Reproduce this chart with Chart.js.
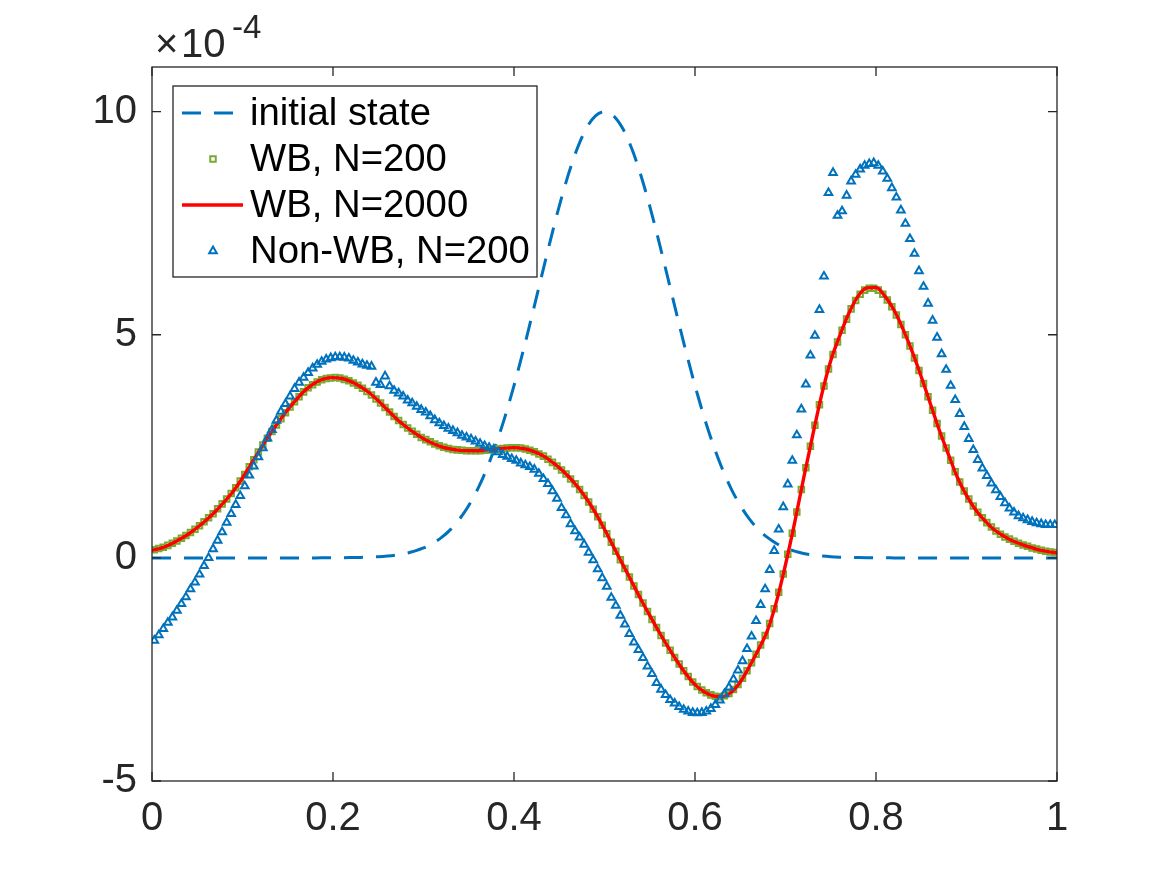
<!DOCTYPE html>
<html lang="en">

<head>
    <meta charset="UTF-8">
    <title>WB vs Non-WB</title>
    <script src="https://cdn.jsdelivr.net/npm/chart.js"></script>
    <style>
        html, body { margin: 0; padding: 0; background: #fff; }
        #holder { width: 1167px; height: 875px; position: relative; }
    </style>
</head>

<body>
    <div id="holder">
        <canvas id="canvas1"></canvas>
    </div>

    <script>
        // ---- data (y values in units of 1e-4) ----
        const seriesNames = ['initial state', 'WB, N=200', 'WB, N=2000', 'Non-WB, N=200'];

        const xTickValues = [0, 0.2, 0.4, 0.6, 0.8, 1];
        const xTickLabels = ['0', '0.2', '0.4', '0.6', '0.8', '1'];
        const yTickValues = [-5, 0, 5, 10];
        const yTickLabels = ['-5', '0', '5', '10'];

        // initial state, sampled at x = 0, 0.01, ..., 1
        const initialState = [
            0, 0, 0, 0, 0, 0, 0, 0, 0, 0,
            0, 0, 0, 0, 0, 0, 0, 0, 0, 0.001,
            0.002, 0.003, 0.006, 0.010, 0.016, 0.026, 0.042, 0.065, 0.100, 0.150,
            0.222, 0.322, 0.458, 0.639, 0.875, 1.175, 1.548, 2.002, 2.540, 3.161,
            3.861, 4.626, 5.438, 6.273, 7.099, 7.882, 8.587, 9.179, 9.626, 9.905,
            10.0,
            9.905, 9.626, 9.179, 8.587, 7.882, 7.099, 6.273, 5.438, 4.626, 3.861,
            3.161, 2.540, 2.002, 1.548, 1.175, 0.875, 0.639, 0.458, 0.322, 0.222,
            0.150, 0.100, 0.065, 0.042, 0.026, 0.016, 0.010, 0.006, 0.003, 0.002,
            0.001, 0, 0, 0, 0, 0, 0, 0, 0, 0,
            0, 0, 0, 0, 0, 0, 0, 0, 0, 0
        ];

        // WB, N=2000 (fine reference curve), sampled at x = 0, 0.01, ..., 1
        const wbN2000 = [
            0.17, 0.22, 0.30, 0.41, 0.53, 0.68, 0.85, 1.04, 1.26, 1.50,
            1.79, 2.12, 2.45, 2.76, 3.05, 3.32, 3.56, 3.77, 3.92, 4.01,
            4.04, 4.02, 3.95, 3.84, 3.70, 3.52, 3.32, 3.12, 2.95, 2.80,
            2.67, 2.57, 2.49, 2.44, 2.41, 2.40, 2.40, 2.42, 2.44, 2.46,
            2.47, 2.45, 2.40, 2.31, 2.18, 2.02, 1.83, 1.60, 1.33, 1.01,
            0.64, 0.25, -0.14, -0.53, -0.92, -1.29, -1.65, -1.99, -2.31, -2.60,
            -2.84, -3.00, -3.09, -3.11, -3.01, -2.78, -2.44, -2.06, -1.63, -0.98,
            -0.15, 0.78, 1.78, 2.74, 3.66, 4.42, 4.98, 5.48, 5.86, 6.05,
            6.06, 5.86, 5.55, 5.12, 4.62, 4.06, 3.46, 2.86, 2.32, 1.80,
            1.40, 1.08, 0.84, 0.64, 0.50, 0.39, 0.31, 0.24, 0.18, 0.14,
            0.11
        ];

        // WB, N=200, one value per cell centre
        const wbN200 = [
            0.18, 0.21, 0.24, 0.28, 0.33, 0.38, 0.44, 0.50, 0.57, 0.64,
            0.72, 0.81, 0.90, 0.99, 1.10, 1.21, 1.32, 1.44, 1.57, 1.72,
            1.87, 2.04, 2.20, 2.37, 2.53, 2.68, 2.83, 2.98, 3.12, 3.25,
            3.38, 3.50, 3.61, 3.72, 3.81, 3.88, 3.94, 3.99, 4.02, 4.03,
            4.04, 4.03, 4.00, 3.97, 3.92, 3.87, 3.80, 3.73, 3.65, 3.56,
            3.47, 3.37, 3.27, 3.17, 3.08, 2.99, 2.91, 2.84, 2.77, 2.70,
            2.65, 2.60, 2.55, 2.51, 2.48, 2.45, 2.43, 2.42, 2.41, 2.40,
            2.40, 2.40, 2.40, 2.41, 2.42, 2.43, 2.44, 2.45, 2.46, 2.47,
            2.47, 2.46, 2.44, 2.41, 2.38, 2.33, 2.28, 2.21, 2.14, 2.06,
            1.97, 1.88, 1.77, 1.66, 1.53, 1.40, 1.25, 1.09, 0.92, 0.73,
            0.54, 0.35, 0.15, -0.04, -0.24, -0.43, -0.63, -0.82, -1.01, -1.20,
            -1.38, -1.56, -1.74, -1.91, -2.07, -2.23, -2.38, -2.53, -2.66, -2.78,
            -2.88, -2.96, -3.02, -3.07, -3.10, -3.11, -3.09, -3.04, -2.95, -2.84,
            -2.70, -2.53, -2.35, -2.16, -1.95, -1.74, -1.47, -1.14, -0.77, -0.36,
            0.08, 0.55, 1.03, 1.53, 2.02, 2.50, 2.97, 3.43, 3.85, 4.23,
            4.56, 4.84, 5.10, 5.35, 5.58, 5.77, 5.91, 6.00, 6.04, 6.04,
            6.00, 5.91, 5.78, 5.63, 5.44, 5.23, 5.00, 4.75, 4.48, 4.20,
            3.91, 3.61, 3.31, 3.01, 2.73, 2.46, 2.19, 1.93, 1.70, 1.50,
            1.32, 1.16, 1.02, 0.90, 0.79, 0.69, 0.60, 0.53, 0.47, 0.42,
            0.37, 0.33, 0.29, 0.26, 0.22, 0.20, 0.17, 0.15, 0.13, 0.12
        ];

        // Non-WB, N=200, one value per cell centre
        const nonWbN200 = [
            -1.85, -1.73, -1.59, -1.45, -1.33, -1.18, -1.03, -0.88, -0.70, -0.55,
            -0.37, -0.18, 0.00, 0.20, 0.39, 0.58, 0.79, 0.99, 1.19, 1.39,
            1.61, 1.85, 2.05, 2.26, 2.46, 2.68, 2.87, 3.08, 3.28, 3.45,
            3.62, 3.79, 3.93, 4.04, 4.15, 4.25, 4.33, 4.40, 4.45, 4.48,
            4.50, 4.50, 4.49, 4.47, 4.42, 4.38, 4.34, 4.31, 4.29, 3.93,
            3.88, 4.07, 3.85, 3.75, 3.69, 3.62, 3.53, 3.47, 3.39, 3.32,
            3.26, 3.18, 3.09, 3.02, 2.96, 2.90, 2.85, 2.80, 2.74, 2.70,
            2.66, 2.61, 2.56, 2.51, 2.47, 2.43, 2.37, 2.31, 2.27, 2.22,
            2.18, 2.12, 2.08, 2.04, 1.98, 1.89, 1.77, 1.66, 1.50, 1.33,
            1.12, 0.96, 0.76, 0.60, 0.46, 0.30, 0.12, -0.05, -0.25, -0.45,
            -0.64, -0.89, -1.07, -1.29, -1.49, -1.70, -1.89, -2.06, -2.24, -2.43,
            -2.60, -2.80, -2.95, -3.07, -3.18, -3.26, -3.34, -3.40, -3.44, -3.47,
            -3.48, -3.47, -3.44, -3.38, -3.29, -3.19, -3.05, -2.90, -2.72, -2.52,
            -2.31, -2.04, -1.76, -1.41, -1.05, -0.70, -0.27, 0.16, 0.64, 1.14,
            1.65, 2.18, 2.75, 3.33, 3.89, 4.54, 4.98, 5.56, 6.31, 8.18,
            8.63, 7.67, 7.77, 8.12, 8.44, 8.59, 8.71, 8.79, 8.83, 8.85,
            8.79, 8.66, 8.50, 8.29, 8.08, 7.79, 7.49, 7.15, 6.82, 6.43,
            6.08, 5.70, 5.32, 4.94, 4.57, 4.22, 3.86, 3.54, 3.23, 2.94,
            2.67, 2.42, 2.20, 2.01, 1.84, 1.67, 1.52, 1.37, 1.23, 1.11,
            1.02, 0.94, 0.89, 0.85, 0.81, 0.78, 0.76, 0.74, 0.74, 0.74
        ];

        // x grids: fine curve at 0.01 steps, N=200 runs at cell centres
        const xFine = initialState.map((_, i) => i / 100);
        const xCells = wbN200.map((_, i) => (i + 0.5) / 200);

        const toPoints = (xs, ys) => ys.map((v, i) => ({ x: xs[i], y: v }));

        const FONT = "'Liberation Sans', Arial, Helvetica, sans-serif";
        const INK = '#262626';
        const BLUE = '#0072BD';
        const GREEN = '#77AC30';
        const RED = '#FF0000';

        // hollow marker for the legend, same shapes Chart.js uses
        function drawMarker(ctx, style, r, x, y) {
            ctx.beginPath();
            if (style === 'rect') {
                const s = r * Math.SQRT1_2;
                ctx.rect(x - s, y - s, 2 * s, 2 * s);
            } else {
                const k = Math.PI * 2 / 3;
                ctx.moveTo(x, y - r);
                ctx.lineTo(x + Math.sin(k) * r, y - Math.cos(k) * r);
                ctx.lineTo(x + Math.sin(2 * k) * r, y - Math.cos(2 * k) * r);
                ctx.closePath();
            }
            ctx.stroke();
        }

        // axes box, inward ticks, exponent label and legend (MATLAB look)
        const matlabFrame = {
            id: 'matlabFrame',
            afterDatasetsDraw(chart) {
                const ctx = chart.ctx;
                const a = chart.chartArea;
                const xs = chart.scales.x;
                const ys = chart.scales.y;
                ctx.save();

                // box
                ctx.strokeStyle = INK;
                ctx.lineWidth = 1.3;
                ctx.setLineDash([]);
                ctx.strokeRect(a.left, a.top, a.right - a.left, a.bottom - a.top);

                // ticks on all four sides
                ctx.beginPath();
                xTickValues.forEach(v => {
                    const px = xs.getPixelForValue(v);
                    ctx.moveTo(px, a.bottom); ctx.lineTo(px, a.bottom - 9);
                    ctx.moveTo(px, a.top); ctx.lineTo(px, a.top + 9);
                });
                yTickValues.forEach(v => {
                    const py = ys.getPixelForValue(v);
                    ctx.moveTo(a.left, py); ctx.lineTo(a.left + 9, py);
                    ctx.moveTo(a.right, py); ctx.lineTo(a.right - 9, py);
                });
                ctx.stroke();

                // x10^-4 multiplier
                ctx.fillStyle = INK;
                ctx.textBaseline = 'alphabetic';
                ctx.textAlign = 'left';
                ctx.font = '40px ' + FONT;
                ctx.fillText('\u00d7', a.left + 3, a.top - 10);
                ctx.fillText('10', a.left + 29, a.top - 10);
                ctx.font = '33px ' + FONT;
                ctx.fillText('-4', a.left + 80, a.top - 29);

                // legend
                const lx = a.left + 21, ly = a.top + 19, lw = 364, lh = 191;
                ctx.fillStyle = '#fff';
                ctx.fillRect(lx, ly, lw, lh);
                ctx.strokeStyle = INK;
                ctx.lineWidth = 1.3;
                ctx.strokeRect(lx, ly, lw, lh);

                ctx.font = '38.3px ' + FONT;
                ctx.textBaseline = 'middle';
                seriesNames.forEach((name, k) => {
                    const ry = ly + 27 + 46 * k;
                    const ds = chart.data.datasets[k];
                    ctx.strokeStyle = ds.borderColor;
                    ctx.lineWidth = ds.borderWidth;
                    if (ds.showLine) {
                        ctx.beginPath();
                        ctx.setLineDash(ds.borderDash || []);
                        ctx.moveTo(lx + 9, ry);
                        ctx.lineTo(lx + 70, ry);
                        ctx.stroke();
                        ctx.setLineDash([]);
                    } else {
                        drawMarker(ctx, ds.pointStyle, ds.pointRadius, lx + 40, ry);
                    }
                    ctx.fillStyle = '#000';
                    ctx.fillText(name, lx + 77, ry + 1);
                });

                ctx.restore();
            }
        };

        const ctx1 = document.getElementById('canvas1').getContext('2d');
        const chart = new Chart(ctx1, {
            type: 'scatter',
            data: {
                datasets: [{
                    label: seriesNames[0],
                    data: toPoints(xFine, initialState),
                    showLine: true,
                    borderColor: BLUE,
                    borderWidth: 3,
                    borderDash: [19, 13],
                    pointRadius: 0,
                    cubicInterpolationMode: 'monotone',
                    order: 4
                }, {
                    label: seriesNames[1],
                    data: toPoints(xCells, wbN200),
                    showLine: false,
                    pointStyle: 'rect',
                    pointRadius: 3.9,
                    borderWidth: 2,
                    borderColor: GREEN,
                    backgroundColor: 'rgba(0,0,0,0)',
                    order: 3
                }, {
                    label: seriesNames[2],
                    data: toPoints(xFine, wbN2000),
                    showLine: true,
                    borderColor: RED,
                    borderWidth: 3.4,
                    pointRadius: 0,
                    cubicInterpolationMode: 'monotone',
                    order: 2
                }, {
                    label: seriesNames[3],
                    data: toPoints(xCells, nonWbN200),
                    showLine: false,
                    pointStyle: 'triangle',
                    pointRadius: 4.4,
                    borderWidth: 2,
                    borderColor: BLUE,
                    backgroundColor: 'rgba(0,0,0,0)',
                    order: 1
                }]
            },
            options: {
                responsive: true,
                maintainAspectRatio: false,
                animation: false,
                events: [],
                layout: { padding: { top: 67, right: 110, left: 0, bottom: 0 } },
                plugins: {
                    legend: { display: false },
                    tooltip: { enabled: false }
                },
                scales: {
                    x: {
                        type: 'linear',
                        min: 0,
                        max: 1,
                        grid: { display: false, drawTicks: false },
                        border: { display: false },
                        afterBuildTicks: (scale) => { scale.ticks = xTickValues.map(v => ({ value: v })); },
                        afterFit: (scale) => { scale.height = 94; },
                        ticks: {
                            color: INK,
                            font: { family: FONT, size: 40 },
                            padding: 14,
                            maxRotation: 0,
                            callback: (v, i) => xTickLabels[i]
                        }
                    },
                    y: {
                        type: 'linear',
                        min: -5,
                        max: 11,
                        grid: { display: false, drawTicks: false },
                        border: { display: false },
                        afterBuildTicks: (scale) => { scale.ticks = yTickValues.map(v => ({ value: v })); },
                        afterFit: (scale) => { scale.width = 152; },
                        ticks: {
                            color: INK,
                            font: { family: FONT, size: 40 },
                            padding: 15,
                            callback: (v, i) => yTickLabels[i]
                        }
                    }
                }
            },
            plugins: [matlabFrame]
        });
    </script>
</body>

</html>
